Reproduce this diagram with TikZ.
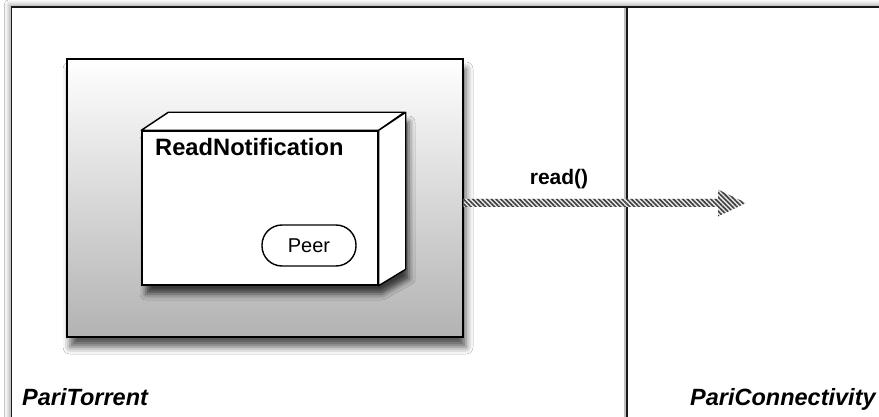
\documentclass[tikz,border=0pt]{standalone}
\usepackage{fontspec}
\setmainfont{Liberation Sans}
\usetikzlibrary{shadows.blur,patterns.meta,calc}

\tikzset{
  frameline/.style={line width=1.8pt, draw=black!90},
  boxline/.style={line width=1.4pt, draw=black},
  softshadow/.style={blur shadow={shadow xshift=3pt, shadow yshift=-10pt,
      shadow blur radius=7pt, shadow opacity=65}},
  container/.style={boxline, rectangle, minimum width=396pt, minimum height=278pt,
      top color=white, bottom color=black!30, softshadow},
  faceside/.style={boxline, fill=white, line join=round},
  pill/.style={boxline, rectangle, rounded corners=20pt, fill=white,
      minimum width=94pt, minimum height=41pt, inner sep=0pt,
      font=\fontsize{20}{24}\selectfont},
  titletext/.style={font=\fontsize{23.7}{28}\selectfont\bfseries, inner sep=0pt},
  msgtext/.style={font=\fontsize{21}{25}\selectfont\bfseries, inner sep=0pt},
  lanetext/.style={font=\fontsize{23.5}{28}\selectfont\bfseries\itshape, inner sep=0pt},
  hatched/.style={pattern={Lines[angle=-45, distance=3.3pt, line width=1.6pt]},
      pattern color=black!75},
}

\begin{document}
\begin{tikzpicture}[x=1pt, y=-1pt]
  \useasboundingbox (0,0) rectangle (879,417);
  \clip (0,0) rectangle (879,417);
  \fill[white] (0,0) rectangle (879,417);

  % swimlane frame with a faint glow on its outer side
  \draw[frameline, fill=white,
        blur shadow={shadow xshift=-3pt, shadow yshift=3pt,
                     shadow blur radius=4pt, shadow opacity=30}]
    (11.5,7) rectangle (900,440);
  \draw[line width=2pt, black!25] (624.6,8) -- (624.6,417);
  \draw[frameline] (627,7) -- (627,417);

  % lane labels
  \node[lanetext, anchor=base west] (laneA) at (22,405) {PariTorrent};
  \node[lanetext, anchor=base west] (laneB) at (690,405) {PariConnectivity};

  % grey container
  \node[container] (box) at (265,198) {};

  % 3D component box: shadow, then faces
  \fill[blur shadow={shadow xshift=4pt, shadow yshift=-9pt,
        shadow blur radius=6pt, shadow opacity=70}, white]
    (142,131) -- (169,113) -- (405,113) -- (405,270) -- (378,285) -- (142,285) -- cycle;
  \node[boxline, fill=white, rectangle, minimum width=236pt, minimum height=154pt,
        inner sep=0pt] (rn) at (260,208) {};
  \draw[faceside] (rn.north west) -- ++(27,-18) -- ++(236,0) -- (rn.north east) -- cycle;
  \draw[faceside] (rn.north east) -- ++(27,-18) -- ++(0,157) -- (rn.south east) -- cycle;
  \node[titletext, anchor=base west] (rntitle) at (155,156) {ReadNotification};
  \node[pill] (peer) at (309,245.5) {Peer};

  % message arrow with hatched body
  \coordinate (src) at ($(box.east)+(0,5)$);
  \coordinate (tip) at (746,203);
  \fill[white!92!black]
    ($(src)+(0,-4)$) -- ($(tip)+(-28,-4)$) -- ($(tip)+(-28,-13.5)$) -- (tip)
    -- ($(tip)+(-28,13.5)$) -- ($(tip)+(-28,4)$) -- ($(src)+(0,4)$) -- cycle;
  \fill[hatched]
    ($(src)+(0,-4)$) -- ($(tip)+(-28,-4)$) -- ($(tip)+(-28,-13.5)$) -- (tip)
    -- ($(tip)+(-28,13.5)$) -- ($(tip)+(-28,4)$) -- ($(src)+(0,4)$) -- cycle;
  \node[msgtext, anchor=base] (msg) at (559,185) {read()};
\end{tikzpicture}
\end{document}
